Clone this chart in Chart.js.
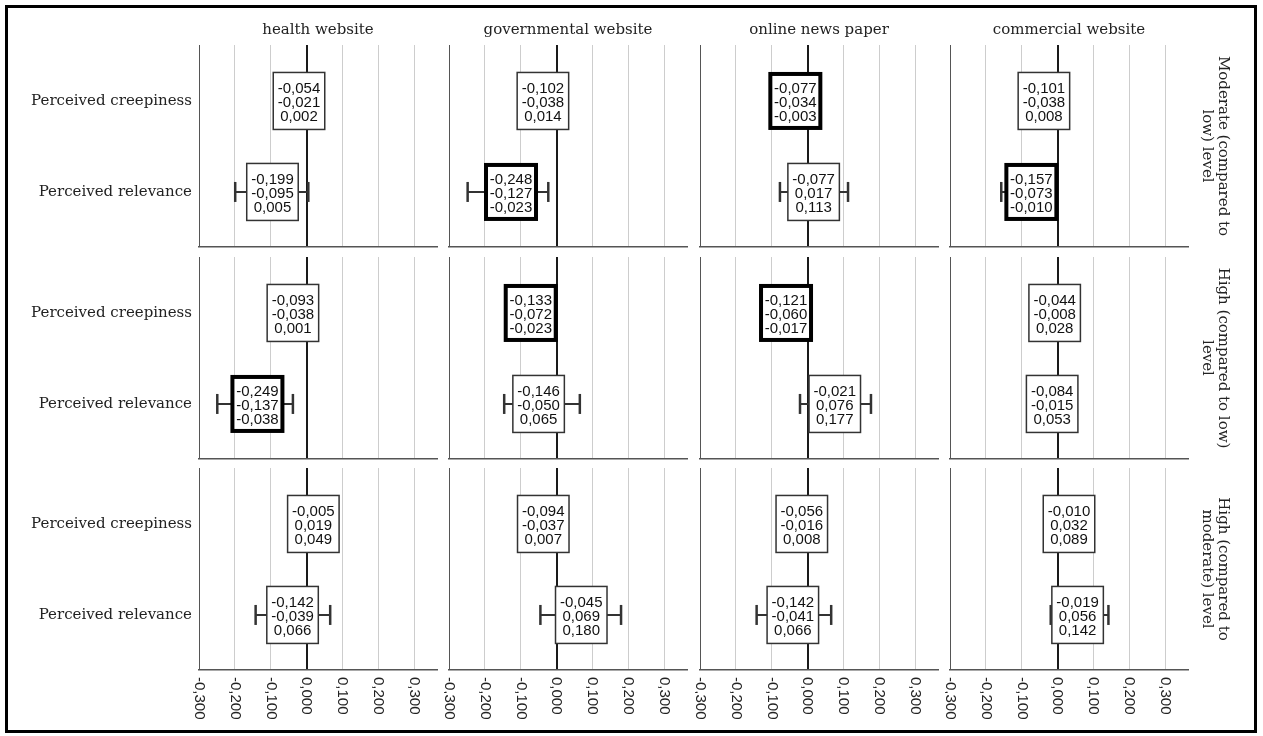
<!DOCTYPE html>
<html><head><meta charset="utf-8">
<script src="https://cdn.jsdelivr.net/npm/chart.js@4.4.1/dist/chart.umd.min.js"></script>
<style>
html,body{margin:0;padding:0;background:#fff;}
#wrap{position:relative;width:1263px;height:736px;overflow:hidden;background:#fff;}
#frame{position:absolute;left:5px;top:5px;width:1246px;height:722px;border:3px solid #000;pointer-events:none;z-index:5;}
canvas{position:absolute;}
</style></head><body><div id="wrap"><div id="frame"></div></div>
<script>
// ---- data ----
const columnTitles = ['health website', 'governmental website', 'online news paper', 'commercial website'];
const rowTitles = [
  ['Moderate (compared to', 'low) level'],
  ['High (compared to low)', 'level'],
  ['High (compared to', 'moderate) level']
];
const measures = ['Perceived creepiness', 'Perceived relevance'];
const xTickValues = [-0.3, -0.2, -0.1, 0, 0.1, 0.2, 0.3];
// [lower, estimate, upper] for each website (column order)
const modLowCreepiness  = [[-0.054, -0.021, 0.002], [-0.102, -0.038, 0.014], [-0.077, -0.034, -0.003], [-0.101, -0.038, 0.008]];
const modLowRelevance   = [[-0.199, -0.095, 0.005], [-0.248, -0.127, -0.023], [-0.077, 0.017, 0.113], [-0.157, -0.073, -0.010]];
const highLowCreepiness = [[-0.093, -0.038, 0.001], [-0.133, -0.072, -0.023], [-0.121, -0.060, -0.017], [-0.044, -0.008, 0.028]];
const highLowRelevance  = [[-0.249, -0.137, -0.038], [-0.146, -0.050, 0.065], [-0.021, 0.076, 0.177], [-0.084, -0.015, 0.053]];
const highModCreepiness = [[-0.005, 0.019, 0.049], [-0.094, -0.037, 0.007], [-0.056, -0.016, 0.008], [-0.010, 0.032, 0.089]];
const highModRelevance  = [[-0.142, -0.039, 0.066], [-0.045, 0.069, 0.180], [-0.142, -0.041, 0.066], [-0.019, 0.056, 0.142]];

const rowData = [
  [modLowCreepiness, modLowRelevance],
  [highLowCreepiness, highLowRelevance],
  [highModCreepiness, highModRelevance]
];

// ---- layout constants ----
const X_MIN = -0.3, X_MAX = 0.364;
const colLeft = [199, 449, 700, 950];
const rowTop = [45, 257, 468];
const plotW = 238, plotH = 202;
const serif = '"DejaVu Serif", "Liberation Serif", serif';
const sans = '"Liberation Sans", Arial, sans-serif';

const fmt = v => (Math.abs(v) < 1e-9 ? 0 : v).toFixed(3).replace('.', ',');

function resetPad(s) { s.paddingTop = 0; s.paddingBottom = 0; s.paddingLeft = 0; s.paddingRight = 0; }

function boxPlugin(items) {
  return {
    id: 'ciBoxes',
    afterDatasetsDraw(chart) {
      const { ctx, scales: { x, y } } = chart;
      items.forEach((it, i) => {
        const [lo, est, hi] = it;
        const cx = x.getPixelForValue(est);
        const cy = y.getPixelForValue(i + 1);
        const bold = hi < 0 || lo > 0;
        const w = bold ? 50 : 51.5, h = bold ? 54 : 57;
        ctx.save();
        ctx.fillStyle = '#fff';
        ctx.fillRect(cx - w / 2, cy - h / 2, w, h);
        ctx.lineWidth = bold ? 4 : 1.5;
        ctx.strokeStyle = bold ? '#000' : '#333';
        ctx.strokeRect(cx - w / 2, cy - h / 2, w, h);
        ctx.fillStyle = '#111';
        ctx.font = '15px ' + sans;
        ctx.textAlign = 'center';
        ctx.textBaseline = 'alphabetic';
        ctx.fillText(fmt(lo), cx, cy - 8);
        ctx.fillText(fmt(est), cx, cy + 6);
        ctx.fillText(fmt(hi), cx, cy + 20);
        ctx.restore();
      });
    }
  };
}

const bottomTicksPlugin = {
  id: 'bottomTicks',
  afterDraw(chart) {
    const { ctx, chartArea, scales: { x } } = chart;
    ctx.save();
    ctx.font = '15px ' + sans;
    ctx.fillStyle = '#222';
    ctx.textAlign = 'left';
    ctx.textBaseline = 'middle';
    xTickValues.forEach(v => {
      const px = x.getPixelForValue(v);
      ctx.save();
      ctx.translate(px, chartArea.bottom + 7);
      ctx.rotate(Math.PI / 2);
      ctx.fillText(fmt(v), 0, 0);
      ctx.restore();
    });
    ctx.restore();
  }
};

const wrap = document.getElementById('wrap');

for (let r = 0; r < 3; r++) {
  for (let c = 0; c < 4; c++) {
    const items = [rowData[r][0][c], rowData[r][1][c]];
    const padTop = r === 0 ? 0 : 3;
    const topSpace = r === 0 ? 45 : padTop;
    const padBottom = r === 2 ? 62 : 2;
    const padLeft = c === 0 ? 0 : 5;
    const padRight = c === 3 ? 0 : 5;
    const leftSpace = c === 0 ? 199 : padLeft;
    const rightSpace = c === 3 ? 62 : padRight;
    const cw = leftSpace + plotW + rightSpace;
    const ch = topSpace + plotH + padBottom;
    const canvas = document.createElement('canvas');
    canvas.width = cw; canvas.height = ch;
    canvas.style.left = (colLeft[c] - leftSpace) + 'px';
    canvas.style.top = (rowTop[r] - topSpace) + 'px';
    canvas.style.width = cw + 'px'; canvas.style.height = ch + 'px';
    wrap.appendChild(canvas);

    const datasets = items.map((it, i) => ({
      type: 'scatter', showLine: true,
      data: [{ x: it[0], y: i + 1 }, { x: it[2], y: i + 1 }],
      borderColor: '#333', borderWidth: 2, pointRadius: 0
    }));
    datasets.push({
      type: 'scatter',
      data: items.flatMap((it, i) => [{ x: it[0], y: i + 1 }, { x: it[2], y: i + 1 }]),
      pointStyle: 'line', rotation: 90, pointRadius: 10,
      borderColor: '#333', backgroundColor: '#333', borderWidth: 2.5
    });

    const scales = {
      x: {
        type: 'linear', min: X_MIN, max: X_MAX,
        afterBuildTicks: s => { s.ticks = xTickValues.map(v => ({ value: v })); },
        afterFit: resetPad,
        ticks: { display: false },
        grid: {
          drawTicks: false,
          color: ctx => {
            const v = ctx.tick ? ctx.tick.value : 1;
            if (Math.abs(v) < 1e-9) return '#1a1a1a';
            if (Math.abs(v - X_MIN) < 1e-9) return '#555';
            return '#cdcdcd';
          },
          lineWidth: ctx => (ctx.tick && Math.abs(ctx.tick.value) < 1e-9) ? 2 : 1
        },
        border: { display: true, color: '#555', width: 1.5 }
      },
      y: {
        type: 'linear', reverse: true, min: 0.385, max: 2.605,
        display: c === 0,
        afterBuildTicks: s => { s.ticks = measures.map((m, i) => ({ value: i + 1 })); },
        afterFit: s => { if (c === 0) s.width = 199; resetPad(s); },
        ticks: {
          callback: v => measures[Math.round(v) - 1],
          font: { family: serif, size: 15 }, color: '#222', padding: 7
        },
        grid: { display: false, drawTicks: false },
        border: { display: false }
      }
    };
    if (c === 3) {
      scales.y2 = {
        type: 'linear', position: 'right', display: true,
        afterFit: s => { s.width = 62; resetPad(s); },
        ticks: { display: false },
        grid: { display: false, drawTicks: false },
        border: { display: false },
        title: {
          display: true, text: rowTitles[r], color: '#222',
          font: { family: serif, size: 15, lineHeight: 16 / 15 },
          padding: { top: 19, bottom: 11 }
        }
      };
    }

    const plugins = [boxPlugin(items)];
    if (r === 2) plugins.push(bottomTicksPlugin);

    new Chart(canvas, {
      type: 'scatter',
      data: { datasets },
      options: {
        responsive: false, animation: false, events: [],
        devicePixelRatio: 1,
        layout: { autoPadding: false, padding: { top: padTop, bottom: padBottom, left: padLeft, right: padRight } },
        plugins: {
          legend: { display: false },
          tooltip: { enabled: false },
          title: {
            display: r === 0, text: columnTitles[c], fullSize: false,
            color: '#222', font: { family: serif, size: 15, weight: 'normal', lineHeight: 1.2 },
            padding: { top: 21, bottom: 6 }
          }
        },
        scales
      },
      plugins
    });
  }
}
</script>
</body></html>
